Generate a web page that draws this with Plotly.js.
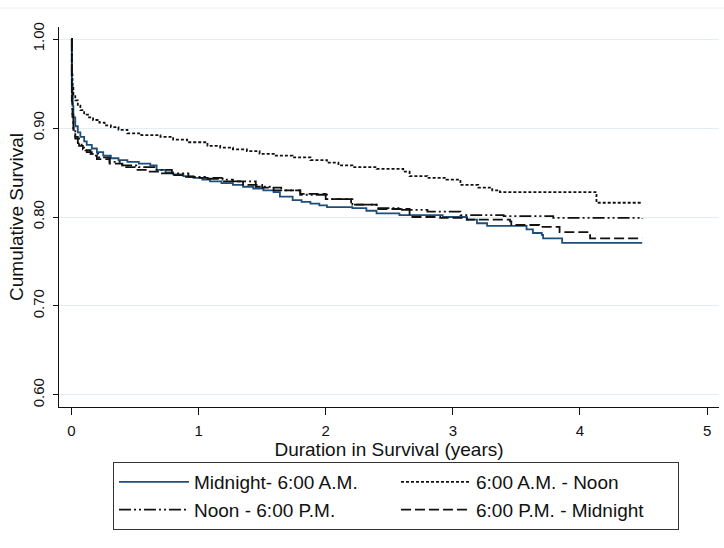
<!DOCTYPE html>
<html>
<head>
<meta charset="utf-8">
<script src="https://cdn.plot.ly/plotly-3.0.1.min.js"></script>
<style>html,body{margin:0;padding:0;background:#fff;}#chart{width:724px;height:548px;}</style>
</head>
<body>
<div id="chart"></div>
<script>
// Series names
const seriesNames = ["Midnight- 6:00 A.M.", "6:00 A.M. - Noon", "Noon - 6:00 P.M.", "6:00 P.M. - Midnight"];

// Midnight - 6 AM
const t1 = [0, 0.003, 0.008, 0.015, 0.03, 0.05, 0.07, 0.1, 0.12, 0.16, 0.2, 0.25, 0.31, 0.37, 0.44, 0.53, 0.62, 0.67, 0.74, 0.8, 0.88, 0.96, 1.03, 1.09, 1.18, 1.27, 1.35, 1.43, 1.51, 1.59, 1.64, 1.74, 1.81, 1.88, 1.95, 2.01, 2.21, 2.32, 2.40, 2.58, 2.92, 3.11, 3.19, 3.27, 3.58, 3.63, 3.70, 3.71, 3.86, 4.49];
const s1 = [1.0, 0.95, 0.925, 0.912, 0.902, 0.895, 0.890, 0.885, 0.881, 0.877, 0.873, 0.869, 0.866, 0.864, 0.862, 0.860, 0.858, 0.853, 0.850, 0.848, 0.846, 0.844, 0.842, 0.840, 0.838, 0.836, 0.834, 0.832, 0.830, 0.828, 0.823, 0.819, 0.817, 0.815, 0.813, 0.811, 0.810, 0.807, 0.804, 0.802, 0.800, 0.797, 0.793, 0.790, 0.786, 0.782, 0.780, 0.776, 0.771, 0.771];

// 6 AM - Noon
const t2 = [0, 0.003, 0.008, 0.015, 0.03, 0.05, 0.07, 0.1, 0.13, 0.17, 0.22, 0.26, 0.31, 0.37, 0.44, 0.55, 0.70, 0.80, 0.91, 1.07, 1.17, 1.27, 1.38, 1.48, 1.60, 1.74, 1.88, 2.01, 2.1, 2.21, 2.40, 2.61, 2.66, 2.80, 2.95, 3.06, 3.20, 3.31, 3.37, 4.13, 4.49];
const s2 = [1.0, 0.96, 0.945, 0.937, 0.931, 0.925, 0.920, 0.915, 0.912, 0.909, 0.906, 0.903, 0.901, 0.898, 0.894, 0.892, 0.890, 0.887, 0.884, 0.880, 0.878, 0.876, 0.874, 0.871, 0.869, 0.867, 0.864, 0.861, 0.858, 0.856, 0.854, 0.851, 0.846, 0.844, 0.842, 0.836, 0.833, 0.830, 0.828, 0.816, 0.816];

// Noon - 6 PM
const t3 = [0, 0.003, 0.008, 0.015, 0.03, 0.05, 0.08, 0.11, 0.15, 0.21, 0.3, 0.40, 0.53, 0.66, 0.79, 0.92, 1.05, 1.19, 1.27, 1.45, 1.59, 1.80, 2.01, 2.21, 2.40, 2.60, 2.80, 3.06, 3.4, 3.79, 4.49];
const s3 = [1.0, 0.94, 0.915, 0.900, 0.890, 0.883, 0.878, 0.875, 0.871, 0.867, 0.862, 0.858, 0.856, 0.853, 0.849, 0.845, 0.843, 0.842, 0.840, 0.834, 0.830, 0.825, 0.820, 0.814, 0.810, 0.808, 0.806, 0.802, 0.801, 0.799, 0.798];

// 6 PM - Midnight
const t4 = [0, 0.003, 0.008, 0.015, 0.03, 0.06, 0.09, 0.12, 0.16, 0.2, 0.3, 0.4, 0.5, 0.6, 0.7, 0.8, 0.9, 1.0, 1.2, 1.35, 1.5, 1.65, 1.8, 2.0, 2.2, 2.4, 2.66, 2.9, 3.11, 3.45, 3.46, 3.68, 3.84, 4.08, 4.49];
const s4 = [1.0, 0.93, 0.91, 0.898, 0.888, 0.880, 0.876, 0.873, 0.869, 0.865, 0.860, 0.856, 0.853, 0.851, 0.849, 0.847, 0.845, 0.844, 0.840, 0.836, 0.833, 0.830, 0.826, 0.820, 0.814, 0.809, 0.800, 0.799, 0.797, 0.795, 0.791, 0.789, 0.783, 0.776, 0.776];

const xTicks = [0, 1, 2, 3, 4, 5];
const yTicks = [0.6, 0.7, 0.8, 0.9, 1.0];
const yTickText = ["0.60", "0.70", "0.80", "0.90", "1.00"];

const FONT = "Liberation Sans, Arial, Helvetica, sans-serif";

function tr(x, y, name, color, dash) {
  return {
    x: x, y: y, name: name, type: "scatter", mode: "lines",
    line: {color: color, width: 1.8, dash: dash, shape: "hv"},
    hoverinfo: "skip"
  };
}

const data = [
  tr(t1, s1, seriesNames[0], "#1f4e79", "solid"),
  tr(t2, s2, seriesNames[1], "#111111", "3px,2px"),
  tr(t3, s3, seriesNames[2], "#111111", "12px,3px,2px,3px,2px,3px"),
  tr(t4, s4, seriesNames[3], "#111111", "10px,4px")
];

const layout = {
  width: 724, height: 548,
  margin: {l: 59, r: 5, t: 27, b: 141},
  paper_bgcolor: "#ffffff", plot_bgcolor: "#ffffff",
  font: {family: FONT, color: "#111111", size: 15},
  showlegend: true,
  xaxis: {
    range: [-0.098, 5.094], tickvals: xTicks, ticktext: xTicks.map(String),
    showgrid: false, zeroline: false, showline: true, linecolor: "#111111", linewidth: 1,
    ticks: "outside", ticklen: 7, tickcolor: "#111111", ticklabelstandoff: 3,
    tickfont: {size: 15, family: FONT},
    title: {text: "Duration in Survival (years)", font: {size: 19, family: FONT}, standoff: 0}
  },
  yaxis: {
    range: [0.5865, 1.0135], tickvals: yTicks, ticktext: yTickText,
    showgrid: true, gridcolor: "#e4edf1", gridwidth: 1,
    zeroline: false, showline: true, linecolor: "#111111", linewidth: 1,
    ticks: "outside", ticklen: 5, tickcolor: "#111111", tickangle: -90, ticklabelstandoff: 3,
    tickfont: {size: 15, family: FONT},
    title: {text: "Cumulative Survival", font: {size: 19, family: FONT}, standoff: 1}
  },
  legend: {
    orientation: "h", x: 0.0818, xanchor: "left", y: -0.145, yanchor: "top",
    entrywidth: 197, entrywidthmode: "pixels", itemwidth: 70,
    font: {size: 19, family: FONT, color: "#111111"},
    bordercolor: "#333333", borderwidth: 1, bgcolor: "#ffffff",
    traceorder: "normal"
  },
  shapes: [{
    type: "line", xref: "paper", yref: "paper",
    x0: -0.0894, x1: 1.0076, y0: 1.05, y1: 1.05,
    line: {color: "#eaf0f3", width: 1}
  }]
};

Plotly.newPlot("chart", data, layout, {staticPlot: true, displayModeBar: false});
</script>
</body>
</html>
